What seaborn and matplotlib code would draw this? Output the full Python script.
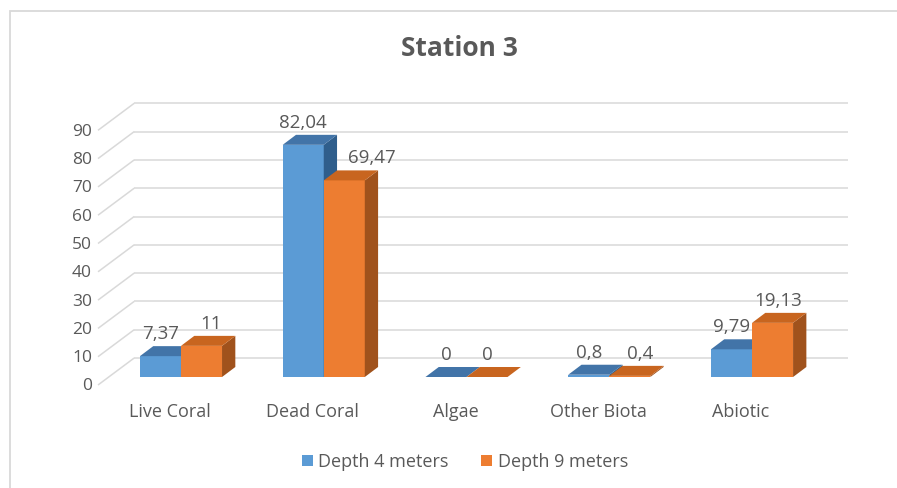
import matplotlib
matplotlib.use("Agg")
import matplotlib.pyplot as plt
from matplotlib.patches import Polygon, Rectangle
import pandas as pd
import seaborn as sns

# --- data -------------------------------------------------------------
categories = ["Live Coral", "Dead Coral", "Algae", "Other Biota", "Abiotic"]
series_names = ["Depth 4 meters", "Depth 9 meters"]
depth_4m = [7.37, 82.04, 0, 0.8, 9.79]
depth_9m = [11, 69.47, 0, 0.4, 19.13]
y_ticks = [0, 10, 20, 30, 40, 50, 60, 70, 80, 90]
title = "Station 3"

# --- style ------------------------------------------------------------
sns.set_theme(style="white")
plt.rcParams["font.family"] = ["Open Sans", "DejaVu Sans"]
text_grey = "#595959"
grid_grey = "#D9D9D9"
front_cols = ["#5B9BD5", "#ED7D31"]
top_cols = ["#4274A8", "#C8651F"]
side_cols = ["#2F5E8C", "#A0521C"]

df = pd.DataFrame({
    "Category": categories * 2,
    "Series": [series_names[0]] * len(categories) + [series_names[1]] * len(categories),
    "Value": depth_4m + depth_9m,
})

W, H = 897, 488
fig = plt.figure(figsize=(W / 100, H / 100), dpi=100)
fig.patch.set_facecolor("white")

# plot area (front plane of the bars)
left_px, right_px = 109.6, 823.4
base_px, top_px = 377.0, 122.3
ax = fig.add_axes([left_px / W, 1 - base_px / H,
                   (right_px - left_px) / W, (base_px - top_px) / H])

sns.barplot(data=df, x="Category", y="Value", hue="Series",
            palette=front_cols, width=0.575, gap=0, linewidth=0,
            saturation=1, legend=False, ax=ax, zorder=2)

ax.set_xlim(-0.5, 4.5)
ax.set_ylim(0, 90)
ax.patch.set_visible(False)
for s in ax.spines.values():
    s.set_visible(False)
ax.set_xticks([])
ax.set_yticks([])
ax.set_xlabel("")
ax.set_ylabel("")

fig.canvas.draw()
p0 = ax.transData.transform((0, 0))
p1 = ax.transData.transform((1, 1))
px_x = p1[0] - p0[0]   # pixels per category unit
px_y = p1[1] - p0[1]   # pixels per value unit


def dx(px):
    return px / px_x


def dy(px):
    return px / px_y


# --- walls: back gridlines and left-wall diagonals ---------------------
back_dx, back_dy = 24.6, 19.0      # back wall offset from the bar plane
front_dx, front_dy = -11.6, -8.0   # front edge of the floor / side wall
wall_right = 4.5 + dx(back_dx)
for v in y_ticks:
    bx, by = -0.5 + dx(back_dx), v + dy(back_dy)
    fx, fy = -0.5 + dx(front_dx), v + dy(front_dy)
    ax.plot([bx, wall_right], [by, by], color=grid_grey, lw=1.1,
            zorder=0.5, clip_on=False, solid_capstyle="butt")
    ax.plot([fx, bx], [fy, by], color=grid_grey, lw=1.1,
            zorder=0.5, clip_on=False, solid_capstyle="butt")
    ax.text(fx - dx(6), fy + dy(-1.5), f"{v}", ha="right", va="center",
            fontsize=12.5, color=text_grey, clip_on=False)

# --- 3-D faces of the bars --------------------------------------------
depth_x, depth_y = dx(13.3), dy(10.0)
label_nudge = [[0, 0, 0, 0, 0], [10, 28, 0, 10, 6]]  # px, keeps labels apart
for k, cont in enumerate(ax.containers):
    z = 2 + k
    vals = [depth_4m, depth_9m][k]
    for i, bar in enumerate(cont.patches):
        bar.set_zorder(z)
        x0 = bar.get_x()
        x1 = x0 + bar.get_width()
        h = bar.get_height()
        top = Polygon([(x0, h), (x1, h), (x1 + depth_x, h + depth_y),
                       (x0 + depth_x, h + depth_y)], closed=True,
                      facecolor=top_cols[k], edgecolor="none",
                      zorder=z + 0.1, clip_on=False)
        side = Polygon([(x1, 0), (x1 + depth_x, depth_y),
                        (x1 + depth_x, h + depth_y), (x1, h)], closed=True,
                       facecolor=side_cols[k], edgecolor="none",
                       zorder=z + 0.1, clip_on=False)
        ax.add_patch(side)
        ax.add_patch(top)
        lbl = f"{vals[i]:g}".replace(".", ",")
        ax.text((x0 + x1) / 2 + dx(label_nudge[k][i]), h + dy(22), lbl,
                ha="center", va="center", fontsize=13.5, color=text_grey,
                zorder=10, clip_on=False)

# category labels on the front floor edge
for i, c in enumerate(categories):
    ax.text(i + dx(-11), dy(-35), c, ha="center", va="center",
            fontsize=13, color=text_grey, clip_on=False)

# --- title, legend, chart-area border ----------------------------------
fig.text(459 / W, 1 - 48 / H, title, ha="center", va="center",
         fontsize=19, fontweight="bold", color=text_grey)

handles = [Rectangle((0, 0), 1, 1, facecolor=c, edgecolor="none")
           for c in front_cols]
fig.legend(handles, series_names, loc="center", ncol=2,
           bbox_to_anchor=(465 / W, 1 - 462 / H), frameon=False,
           fontsize=13, handlelength=0.6, handleheight=0.6,
           handletextpad=0.3, columnspacing=1.8, labelcolor=text_grey)

fig.add_artist(Rectangle((10 / W, -0.1), 1.2, (1 - 11 / H) + 0.1,
                         transform=fig.transFigure, facecolor="none",
                         edgecolor="#D9D9D9", lw=1.3, zorder=0))

fig.savefig("out.png", dpi=100, facecolor="white")
